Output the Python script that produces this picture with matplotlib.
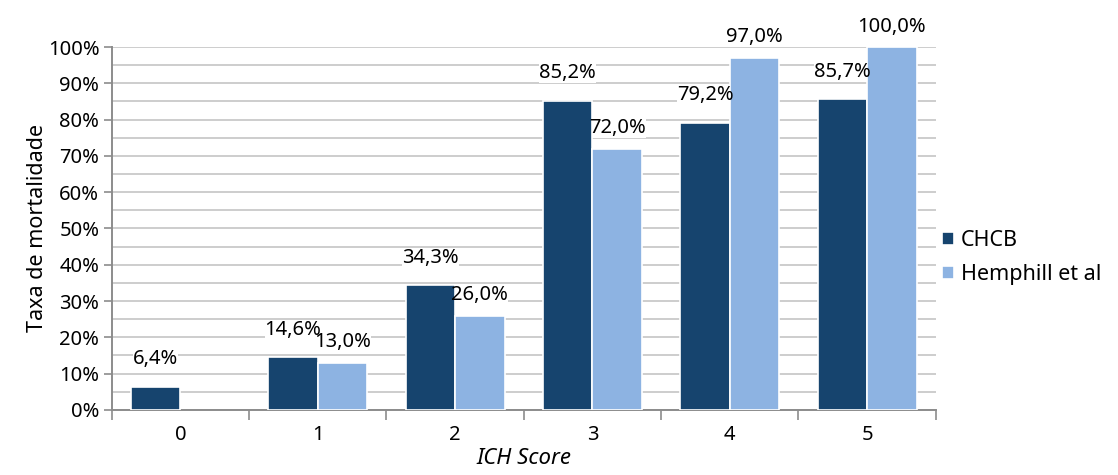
import matplotlib.pyplot as plt
import numpy as np
from matplotlib.ticker import FixedLocator, NullFormatter

plt.rcParams['font.family'] = ['Noto Sans', 'DejaVu Sans']

scores = ['0', '1', '2', '3', '4', '5']
chcb = [6.4, 14.6, 34.3, 85.2, 79.2, 85.7]
hemphill = [None, 13.0, 26.0, 72.0, 97.0, 100.0]

dark = '#16446E'
light = '#8DB3E2'
grid_col = '#C0C0C0'
axis_col = '#8C8C8C'

fig = plt.figure(figsize=(11.18, 4.75), dpi=100)
ax = fig.add_axes([0.1, 0.137, 0.737, 0.764])

x = np.arange(len(scores))
w = 0.36

def fmt(v):
    return ('%.1f%%' % v).replace('.', ',')

def bar_label(xpos, v, lift):
    # white patch hides the gridlines only (sits under the bars), text goes on top
    kw = dict(xytext=(0, lift), textcoords='offset points', ha='center', va='bottom',
              fontsize=14.5)
    ax.annotate(fmt(v), (xpos, v), zorder=2, color='white',
                bbox=dict(boxstyle='square,pad=0', fc='white', ec='none'), **kw)
    ax.annotate(fmt(v), (xpos, v), zorder=4, **kw)

for i, v in enumerate(chcb):
    ax.bar(x[i] - w / 2, v, w, color=dark, edgecolor='white', linewidth=1.2, zorder=3,
           label='CHCB' if i == 0 else None)
    bar_label(x[i] - w / 2, v, 12.5)
for i, v in enumerate(hemphill):
    if v is None:
        continue
    ax.bar(x[i] + w / 2, v, w, color=light, edgecolor='white', linewidth=1.2, zorder=3,
           label='Hemphill et al' if i == 1 else None)
    bar_label(x[i] + w / 2, v, 7.5)

ax.set_xlim(-0.5, 5.5)
ax.set_ylim(0, 100)

# y axis: labels every 10 %, gridlines every 5 %
ax.set_yticks(np.arange(0, 101, 10))
ax.set_yticklabels(['%d%%' % v for v in range(0, 101, 10)], fontsize=14.5)
ax.yaxis.set_minor_locator(FixedLocator(np.arange(5, 100, 10)))
ax.grid(axis='y', which='both', color=grid_col, linewidth=1.1, zorder=0)
ax.tick_params(axis='y', which='major', length=6, color=axis_col, width=1.2, pad=3)
ax.tick_params(axis='y', which='minor', length=0)

# x axis: ticks between categories, labels at centres
ax.xaxis.set_major_locator(FixedLocator(np.arange(-0.5, 6, 1)))
ax.xaxis.set_major_formatter(NullFormatter())
ax.xaxis.set_minor_locator(FixedLocator(x))
ax.set_xticklabels(scores, minor=True, fontsize=14.5)
ax.tick_params(axis='x', which='major', length=7, color=axis_col, width=1.2)
ax.tick_params(axis='x', which='minor', length=0, pad=11)

for s in ['top', 'right']:
    ax.spines[s].set_visible(False)
for s in ['left', 'bottom']:
    ax.spines[s].set_color(axis_col)
    ax.spines[s].set_linewidth(1.4)

ax.set_ylabel('Taxa de mortalidade', fontsize=15.5, labelpad=0)
ax.set_xlabel('ICH Score', fontsize=16, style='italic', labelpad=2)

ax.legend(loc='center left', bbox_to_anchor=(1.0, 0.42), frameon=False, fontsize=15.5,
          handlelength=0.55, handleheight=0.55, handletextpad=0.3, labelspacing=0.6,
          borderaxespad=0.1, borderpad=0.2)

fig.savefig('out.png', dpi=100)
